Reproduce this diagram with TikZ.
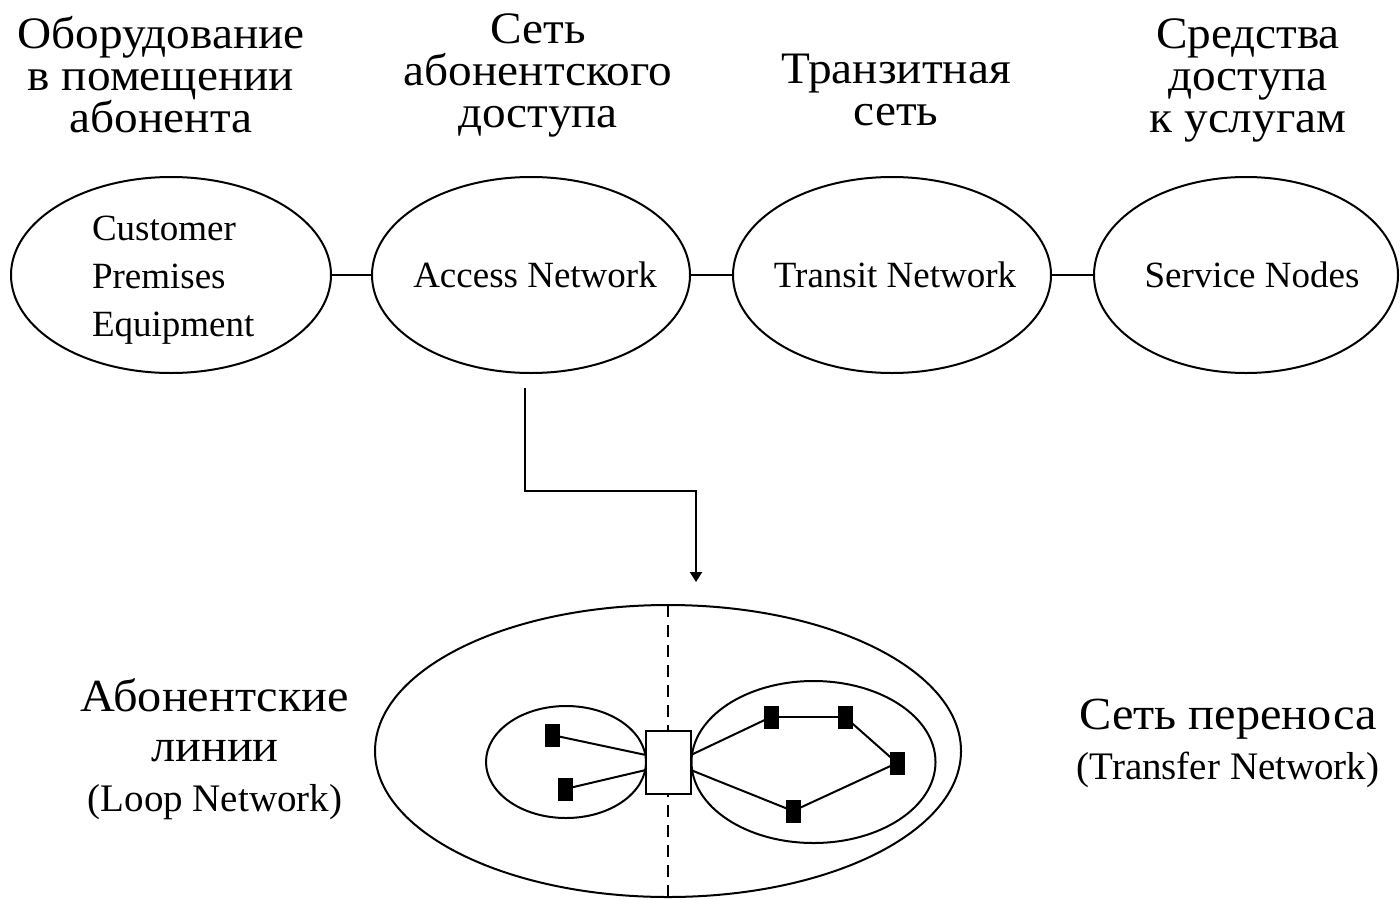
\documentclass[tikz,border=0pt]{standalone}
\usepackage{fontspec}
\setmainfont{Liberation Serif}
\newfontfamily\widecyr[FakeStretch=1.05]{Liberation Serif}
\usetikzlibrary{shapes.geometric,arrows.meta,calc}
\begin{document}
\begin{tikzpicture}[x=0.5pt,y=-0.5pt, line width=1pt,
  oval/.style={draw, ellipse, inner sep=0pt},
  hdr/.style={align=center, font=\widecyr\fontsize{22.5}{21}\selectfont, inner sep=0pt, anchor=north},
  etxt/.style={font=\fontsize{18.5}{24}\selectfont, inner sep=0pt},
  blk/.style={fill=black, draw=none, minimum width=7.5pt, minimum height=11.5pt, inner sep=0pt},
  conn/.style={line width=1pt},
  lbl/.style={align=center, inner sep=0pt, anchor=north, font=\widecyr\fontsize{23}{25}\selectfont},
]
\useasboundingbox (0,0) rectangle (1400,899);

% headers
\node[hdr] (h1) at (161,15) {Оборудование\\в помещении\\абонента};
\node[hdr] (h2) at (538,13) {Сеть\\абонентского\\доступа};
\node[hdr] (h3) at (896,53) {Транзитная\\сеть};
\node[hdr] (h4) at (1248,18) {Средства\\доступа\\к услугам};

% top ellipses
\node[oval, minimum width=160pt, minimum height=98pt] (cpe) at (171,275) {};
\node[oval, minimum width=159pt, minimum height=98pt] (an) at (531,275) {};
\node[oval, minimum width=159pt, minimum height=98pt] (tn) at (892,275) {};
\node[oval, minimum width=152pt, minimum height=98pt] (sn) at (1246,275) {};

\node[etxt, align=left, anchor=north west] (cpet) at (91,215) {Customer\\Premises\\Equipment};
\node[etxt] (ant) at (535,275) {Access Network};
\node[etxt] (tnt) at (895,275) {Transit Network};
\node[etxt] (snt) at (1252,275) {Service Nodes};

\draw[conn] (cpe.east) -- (an.west);
\draw[conn] (an.east) -- (tn.west);
\draw[conn] (tn.east) -- (sn.west);

% arrow
\coordinate (as) at (525,388);
\coordinate (ae) at (696,582);
\draw[conn, -{Triangle[length=5pt,width=6pt]}] (as) -- (525,491) -| (ae);

% bottom
\node[oval, minimum width=293pt, minimum height=146pt] (big) at (668,751) {};
\coordinate (dt) at (668,605);
\coordinate (db) at (668,899);
\draw[dashed, dash pattern=on 6pt off 4pt, line width=0.8pt] (dt) -- (db);

\node[oval, minimum width=80pt, minimum height=56pt] (le) at (566,762) {};
\node[oval, minimum width=122pt, minimum height=81pt] (re) at (813.5,762) {};
\node[draw, fill=white, minimum width=22.5pt, minimum height=31.5pt, inner sep=0pt] (box) at (668,762.5) {};

\node[blk] (s1) at (552,735) {};
\node[blk] (s2) at (565,789) {};
\node[blk] (r1) at (771,717) {};
\node[blk] (r2) at (845,717) {};
\node[blk] (r3) at (897,763) {};
\node[blk] (r4) at (793,811) {};

\coordinate (bwl1) at ($(box.north west)!0.38!(box.south west)$);
\coordinate (bwl2) at ($(box.north west)!0.62!(box.south west)$);
\coordinate (bwr1) at ($(box.north east)!0.38!(box.south east)$);
\coordinate (bwr2) at ($(box.north east)!0.62!(box.south east)$);

\draw[conn] (s1.center) -- (bwl1);
\draw[conn] (s2.center) -- (bwl2);
\draw[conn] (bwr1) -- (r1.center);
\draw[conn] (bwr2) -- (r4.center);
\draw[conn] (r1.center) -- (r2.center);
\draw[conn] (r2.center) -- (r3.center);
\draw[conn] (r3.center) -- (r4.center);

% labels
\node[lbl] (ll) at (215,678)
  {Абонентские\\линии\\{\normalfont\fontsize{19.5}{25}\selectfont (Loop Network)}};
\node[lbl] (rl) at (1228,698)
  {Сеть переноса\\{\normalfont\fontsize{19.5}{25}\selectfont (Transfer Network)}};
\end{tikzpicture}
\end{document}
